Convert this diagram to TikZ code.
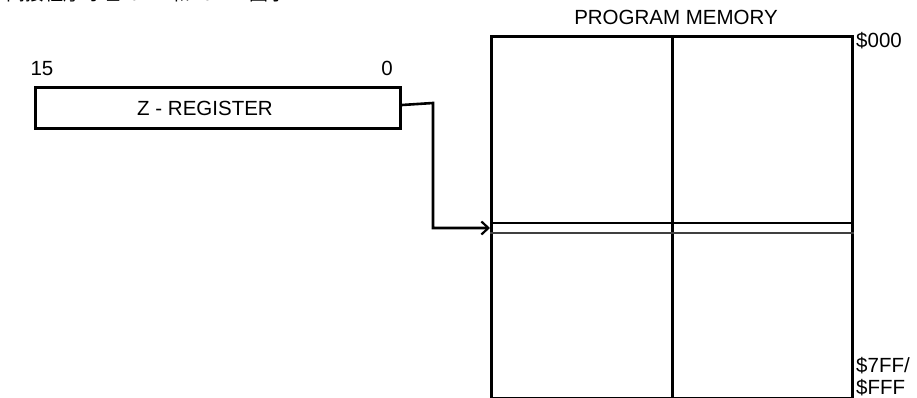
\documentclass[tikz,border=0pt]{standalone}
\usepackage{fontspec}
\setmainfont{Liberation Sans}
\newfontfamily\cjk{Noto Sans CJK SC}
\usetikzlibrary{arrows.meta,calc}
\begin{document}
\begin{tikzpicture}[x=1pt,y=-1pt,
  lbl/.style={font=\fontsize{20.5}{22}\selectfont, inner sep=0pt},
  boxline/.style={line width=3pt},
  thinline/.style={line width=2pt}]
\useasboundingbox (0,0) rectangle (917,398);
\fill[white] (0,0) rectangle (917,398);
\begin{scope}
\clip (0,0) rectangle (917,398);
% cropped caption at the top edge
\node[anchor=base west, inner sep=0pt, font=\cjk\fontsize{19}{20}\selectfont] (cap) at (6,1) {间接程序寻址 IJMP 和 ICALL 图示};
% Z register
\node[boxline, draw, minimum width=365pt, minimum height=41pt, inner sep=0pt, anchor=north west] (zreg) at (34,86) {};
\node[lbl] (zlab) at (205,108.5) {Z - REGISTER};
\node[lbl, anchor=base] (b15) at (42,76) {15};
\node[lbl, anchor=base] (b0) at (387,76) {0};
% program memory
\node[boxline, draw, minimum width=361pt, minimum height=362pt, inner sep=0pt, anchor=north west] (mem) at (490,35) {};
\node[lbl, anchor=base] (pm) at (676,25) {PROGRAM MEMORY};
\draw[boxline] (mem.north) -- (mem.south);
\coordinate (l1a) at (mem.west |- 0,223);
\coordinate (l1b) at (mem.east |- 0,223);
\coordinate (l2a) at (mem.west |- 0,233);
\coordinate (l2b) at (mem.east |- 0,233);
\draw[thinline] (l1a) -- (l1b);
\draw[thinline, black!75] (l2a) -- (l2b);
\node[lbl, anchor=base west] (a000) at (856,48) {\$000};
\node[lbl, anchor=base west] (a7ff) at (856,372) {\$7FF/};
\node[lbl, anchor=base west] (afff) at (856,394) {\$FFF};
% connector
\coordinate (zout) at ($(zreg.east)+(0,-3)$);
\coordinate (jog) at (433,103);
\coordinate (entry) at (mem.west |- 0,228);
\draw[line width=2.6pt, -{Straight Barb[length=7pt,width=13pt,line width=2.2pt]}]
  (zout) -- (jog) |- (entry);
\end{scope}
\end{tikzpicture}
\end{document}
